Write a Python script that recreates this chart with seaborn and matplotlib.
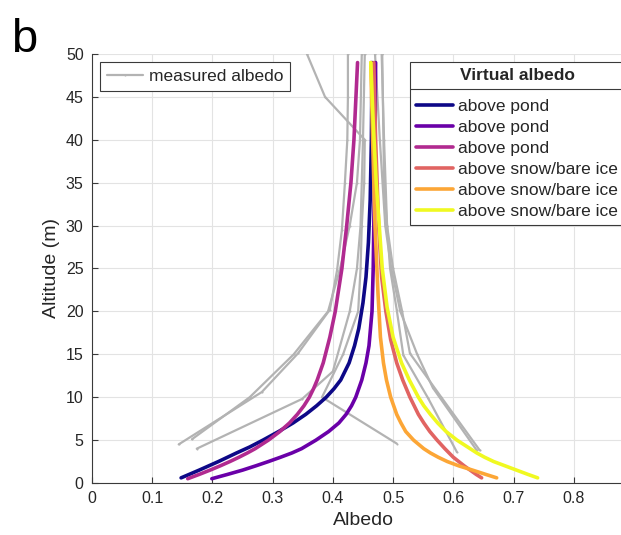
import numpy as np
import pandas as pd
import matplotlib
matplotlib.use("Agg")
import matplotlib.pyplot as plt
from matplotlib.lines import Line2D
from matplotlib.ticker import FuncFormatter
import seaborn as sns

# ---------------- data ----------------
# measured albedo profiles (albedo, altitude)
meas_alb_1 = [0.144, 0.282, 0.342, 0.395, 0.407, 0.415, 0.420, 0.424, 0.425, 0.425]
meas_alt_1 = [4.5, 10.6, 15.1, 20.2, 24.8, 29.5, 35.0, 40.0, 45.0, 50.0]
meas_alb_2 = [0.166, 0.262, 0.335, 0.392, 0.412, 0.428, 0.440, 0.445, 0.448]
meas_alt_2 = [5.1, 10.0, 15.0, 20.0, 25.0, 30.0, 35.0, 40.0, 50.0]
meas_alb_3 = [0.174, 0.349, 0.400, 0.428, 0.440, 0.446, 0.450, 0.453]
meas_alt_3 = [4.0, 9.8, 13.0, 20.0, 25.0, 30.0, 40.0, 50.0]
meas_alb_4 = [0.506, 0.382, 0.417, 0.442, 0.446, 0.448, 0.452, 0.453, 0.387, 0.357]
meas_alt_4 = [4.6, 10.0, 15.0, 20.0, 25.0, 30.0, 35.0, 40.0, 45.0, 50.0]
meas_alb_5 = [0.606, 0.558, 0.517, 0.506, 0.495, 0.490, 0.485, 0.481]
meas_alt_5 = [3.6, 9.9, 14.9, 20.2, 25.0, 30.0, 40.0, 50.0]
meas_alb_6 = [0.639, 0.566, 0.540, 0.512, 0.497, 0.487, 0.478, 0.470]
meas_alt_6 = [3.8, 11.1, 15.0, 20.0, 25.0, 30.0, 40.0, 50.0]
meas_alb_7 = [0.644, 0.580, 0.528, 0.515, 0.500, 0.490, 0.485, 0.482]
meas_alt_7 = [3.8, 10.0, 15.1, 20.0, 25.0, 30.0, 35.0, 50.0]

measured = [(meas_alb_1, meas_alt_1), (meas_alb_2, meas_alt_2), (meas_alb_3, meas_alt_3),
            (meas_alb_4, meas_alt_4), (meas_alb_5, meas_alt_5), (meas_alb_6, meas_alt_6),
            (meas_alb_7, meas_alt_7)]

# virtual albedo curves
navy_alt = [0.6, 1.5, 2.5, 3.5, 4.2, 5, 6, 7, 8, 9, 10, 11, 12, 14, 16, 18, 21, 24, 28, 33, 40, 49]
navy_alb = [0.148, 0.178, 0.210, 0.240, 0.262, 0.284, 0.310, 0.334, 0.355, 0.373, 0.389,
            0.402, 0.413, 0.427, 0.436, 0.443, 0.450, 0.455, 0.459, 0.462, 0.464, 0.465]
purple_alt = [0.5, 1, 1.5, 2, 2.5, 3, 3.5, 4, 5, 6, 7, 8, 9, 10, 12, 14, 16, 20, 25, 30, 40, 49]
purple_alb = [0.199, 0.225, 0.250, 0.272, 0.293, 0.313, 0.332, 0.348, 0.372, 0.393, 0.410,
              0.422, 0.431, 0.438, 0.448, 0.455, 0.460, 0.465, 0.467, 0.468, 0.470, 0.471]
magenta_alt = [0.5, 1, 1.5, 2, 2.5, 3, 3.5, 4, 5, 6, 7, 8, 9, 10, 11, 12, 14, 17, 20, 25,
               30, 35, 40, 49]
magenta_alb = [0.159, 0.178, 0.196, 0.213, 0.229, 0.244, 0.258, 0.271, 0.293, 0.312, 0.328,
               0.341, 0.352, 0.361, 0.368, 0.374, 0.384, 0.395, 0.404, 0.415, 0.423, 0.430,
               0.435, 0.441]
red_alt = [0.6, 1, 1.5, 2, 2.5, 3, 3.5, 4, 5, 6, 7, 8, 9, 10, 12, 14, 16.7, 20, 24, 30, 40, 49]
red_alb = [0.647, 0.638, 0.628, 0.618, 0.609, 0.600, 0.593, 0.586, 0.573, 0.561, 0.551,
           0.542, 0.535, 0.528, 0.516, 0.506, 0.496, 0.488, 0.481, 0.476, 0.471, 0.468]
orange_alt = [0.6, 1, 1.5, 2, 2.5, 3, 3.5, 4, 5, 6, 7, 8, 10, 12, 14, 17, 22, 30, 40, 49]
orange_alb = [0.672, 0.654, 0.632, 0.609, 0.590, 0.575, 0.562, 0.551, 0.534, 0.521, 0.513,
              0.506, 0.496, 0.489, 0.484, 0.479, 0.475, 0.470, 0.466, 0.463]
yellow_alt = [0.6, 1, 1.5, 2, 2.5, 3, 3.5, 4, 5, 6, 7, 8, 9, 10, 12, 14, 17, 20.5, 25, 30,
              35, 42, 49]
yellow_alb = [0.740, 0.724, 0.705, 0.686, 0.667, 0.652, 0.639, 0.628, 0.606, 0.588, 0.574,
              0.562, 0.551, 0.542, 0.527, 0.514, 0.500, 0.490, 0.482, 0.477, 0.472, 0.467,
              0.463]

virtual_keys = ["pond1", "pond2", "pond3", "snow1", "snow2", "snow3"]
virtual_labels = ["above pond", "above pond", "above pond",
                  "above snow/bare ice", "above snow/bare ice", "above snow/bare ice"]
virtual = [(navy_alb, navy_alt), (purple_alb, purple_alt), (magenta_alb, magenta_alt),
           (red_alb, red_alt), (orange_alb, orange_alt), (yellow_alb, yellow_alt)]

x_ticks = [0, 0.1, 0.2, 0.3, 0.4, 0.5, 0.6, 0.7, 0.8]
y_ticks = [0, 5, 10, 15, 20, 25, 30, 35, 40, 45, 50]

# ---------------- tables ----------------
rows = []
for i, (a, h) in enumerate(measured):
    for k, (aa, hh) in enumerate(zip(a, h)):
        rows.append({"profile": i, "order": k, "albedo": aa, "altitude": hh})
df_meas = pd.DataFrame(rows)

rows = []
for key, (a, h) in zip(virtual_keys, virtual):
    for k, (aa, hh) in enumerate(zip(a, h)):
        rows.append({"curve": key, "order": k, "albedo": aa, "altitude": hh})
df_virt = pd.DataFrame(rows)

palette = dict(zip(virtual_keys, [tuple(c[:3]) for c in plt.cm.plasma(np.linspace(0, 1, 6))]))

# ---------------- style ----------------
sns.set_style("ticks")
plt.rcParams["font.family"] = ["Liberation Sans", "DejaVu Sans"]
dark = "#262626"

fig = plt.figure(figsize=(6.21, 5.35), dpi=100)
ax = fig.add_axes([0.1481, 0.0972, 0.8728, 0.8019])

gray = "#b3b3b3"
sns.lineplot(data=df_meas, x="albedo", y="altitude", units="profile", estimator=None,
             sort=False, color=gray, lw=1.6, marker=".", markersize=3,
             markeredgewidth=0, ax=ax, legend=False)
sns.lineplot(data=df_virt, x="albedo", y="altitude", hue="curve", hue_order=virtual_keys,
             palette=palette, units="curve", estimator=None, sort=False, lw=2.6,
             ax=ax, legend=False)

ax.set_xlim(0, 0.9)
ax.set_ylim(0, 50)
ax.set_xticks(x_ticks)
ax.set_yticks(y_ticks)
ax.xaxis.set_major_formatter(FuncFormatter(lambda v, p: "0" if abs(v) < 1e-9 else f"{v:g}"))
ax.grid(True, color="#e3e3e3", lw=0.8)
ax.set_axisbelow(True)
for s in ["top", "right"]:
    ax.spines[s].set_visible(False)
for s in ["left", "bottom"]:
    ax.spines[s].set_color("#3a3a3a")
    ax.spines[s].set_linewidth(0.8)
ax.tick_params(direction="in", length=4, width=0.8, color="#3a3a3a",
               labelsize=11.5, labelcolor=dark, pad=6)
ax.set_xlabel("Albedo", fontsize=14, color=dark, labelpad=4)
ax.set_ylabel("Altitude (m)", fontsize=14, color=dark, labelpad=4)

# legends
h_meas = [Line2D([], [], color=gray, lw=1.6, marker=".", markersize=3, markeredgewidth=0)]
leg1 = ax.legend(h_meas, ["measured albedo"], loc="upper left",
                 bbox_to_anchor=(0.0148, 0.981), borderaxespad=0, fontsize=12.5,
                 frameon=True, fancybox=False, edgecolor="#3a3a3a", framealpha=1,
                 handlelength=2.1, handletextpad=0.3, borderpad=0.4)
leg1.get_frame().set_linewidth(0.8)
ax.add_artist(leg1)

h_virt = [Line2D([], [], color=palette[k], lw=2.6) for k in virtual_keys]
leg2 = ax.legend(h_virt, virtual_labels, loc="upper left", bbox_to_anchor=(0.587, 0.981),
                 borderaxespad=0, fontsize=12.5, title="Virtual albedo",
                 title_fontproperties={"weight": "bold", "size": 12.5},
                 frameon=True, fancybox=False, edgecolor="#3a3a3a", framealpha=1,
                 handlelength=2.1, handletextpad=0.3, labelspacing=0.34, borderpad=0.35)
leg2.get_frame().set_linewidth(0.8)
leg2._legend_box.sep = 11

fig.text(0.018, 0.903, "b", fontsize=34, color="black", va="baseline", ha="left")

# separator line under the legend title
fig.canvas.draw()
r = fig.canvas.get_renderer()
lb = leg2.get_frame().get_window_extent(r)
tb = leg2.get_title().get_window_extent(r)
ysep = tb.y0 - 6
inv = fig.transFigure.inverted()
(x0, y0) = inv.transform((lb.x0, ysep))
(x1, _) = inv.transform((lb.x1, ysep))
fig.add_artist(Line2D([x0, x1], [y0, y0], transform=fig.transFigure,
                      color="#3a3a3a", lw=0.8))

fig.savefig("out.png", dpi=100)
